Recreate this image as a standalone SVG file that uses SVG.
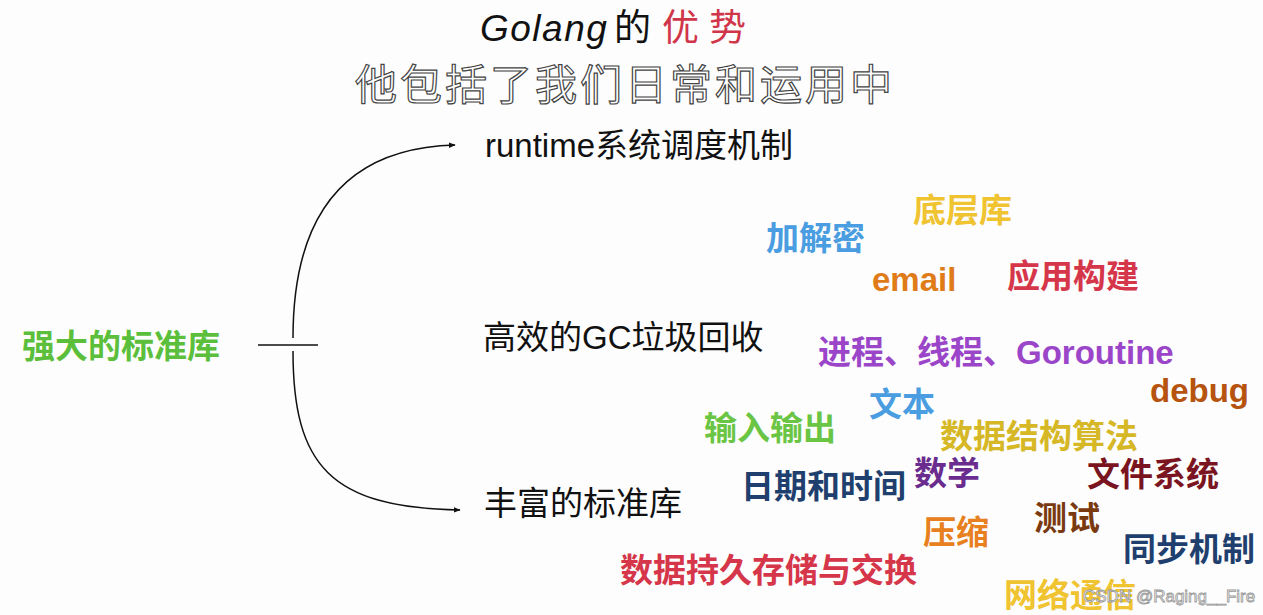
<svg xmlns="http://www.w3.org/2000/svg" width="1263" height="615" viewBox="0 0 1263 615">
<style>
.t{font-family:"Liberation Sans","Noto Sans CJK SC",sans-serif;}
.b{font-family:"Liberation Sans","Noto Sans CJK SC",sans-serif;font-weight:bold;font-size:33px;}
.n{font-family:"Liberation Sans","Noto Sans CJK SC",sans-serif;font-size:33px;fill:#111;}
.c{fill:none;stroke:#111;stroke-width:1.5;}
</style>
<defs>
<marker id="ar" viewBox="0 0 10 10" refX="9" refY="5" markerWidth="7" markerHeight="7" orient="auto" markerUnits="userSpaceOnUse">
<path d="M0,1 L10,5 L0,9 z" fill="#111"/>
</marker>
</defs>
<rect width="1263" height="615" fill="#fdfdfd"/>
<g id="title">
<text x="480" y="41" class="t" font-size="37" fill="#111"><tspan font-style="italic" letter-spacing="1.5">Golang</tspan><tspan x="614">的</tspan><tspan x="662" fill="#d0354a" letter-spacing="10">优势</tspan></text>
<text x="355" y="100" class="t" font-size="42" letter-spacing="3" fill="#fff" stroke="#444" stroke-width="1.2">他包括了我们日常和运用中</text>
</g>
<g id="connectors">
<line x1="258" y1="345" x2="318" y2="345" class="c"/>
<path d="M293,338 C293,215 345,148 455,145" class="c" marker-end="url(#ar)"/>
<path d="M293,351 C293,465 330,508 460,510" class="c" marker-end="url(#ar)"/>
</g>
<g id="root"><text x="22" y="358" class="b" fill="#5cbf3c">强大的标准库</text></g>
<g id="runtime"><text x="485" y="157" class="n">runtime系统调度机制</text></g>
<g id="gc"><text x="483" y="349" class="n">高效的GC垃圾回收</text></g>
<g id="stdlib"><text x="484" y="515" class="n">丰富的标准库</text></g>
<g id="w-crypto"><text x="766" y="250" class="b" fill="#4a9de0">加解密</text></g>
<g id="w-lowlevel"><text x="913" y="222" class="b" fill="#f0c330">底层库</text></g>
<g id="w-email"><text x="872" y="291" class="b" fill="#e07b1a">email</text></g>
<g id="w-app"><text x="1007" y="288" class="b" fill="#d6364a">应用构建</text></g>
<g id="w-proc"><text x="818" y="364" class="b" fill="#9b45c9">进程、线程、Goroutine</text></g>
<g id="w-debug"><text x="1150" y="402" class="b" fill="#b5530f">debug</text></g>
<g id="w-text"><text x="869" y="416" class="b" fill="#4a9de0">文本</text></g>
<g id="w-io"><text x="704" y="440" class="b" fill="#6bc544">输入输出</text></g>
<g id="w-ds"><text x="940" y="448" class="b" fill="#d6b827">数据结构算法</text></g>
<g id="w-math"><text x="914" y="485" class="b" fill="#6a2c8e">数学</text></g>
<g id="w-fs"><text x="1087" y="486" class="b" fill="#7a1420">文件系统</text></g>
<g id="w-time"><text x="741" y="498" class="b" fill="#1f3f6e">日期和时间</text></g>
<g id="w-test"><text x="1034" y="530" class="b" fill="#7a3a10">测试</text></g>
<g id="w-zip"><text x="923" y="544" class="b" fill="#e88020">压缩</text></g>
<g id="w-sync"><text x="1123" y="561" class="b" fill="#1f3f6e">同步机制</text></g>
<g id="w-persist"><text x="620" y="582" class="b" fill="#d6364a">数据持久存储与交换</text></g>
<g id="w-net"><text x="1004" y="607" class="b" fill="#f0c330">网络通信</text></g>
<g id="watermark"><text x="1083" y="602" class="t" font-size="17" fill="#f4f4f4" stroke="#999" stroke-width="0.8">CSDN @Raging__Fire</text></g>
</svg>
